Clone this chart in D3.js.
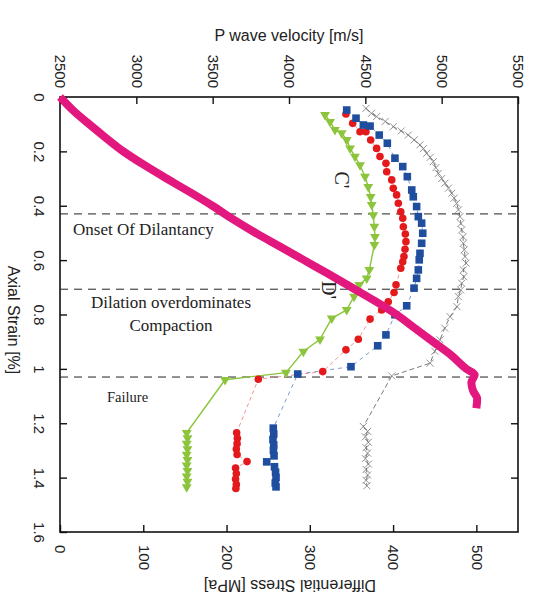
<!DOCTYPE html>
<html>
<head>
<meta charset="utf-8">
<script src="https://d3js.org/d3.v7.min.js"></script>
<style>
  body { margin: 0; background: #fff; }
  svg text { font-family: "Liberation Sans", Arial, sans-serif; fill: #222; }
  .serif { font-family: "Liberation Serif", "Times New Roman", serif; }
</style>
</head>
<body>
<div id="container"></div>
<script>
let width = 540;
let height = 608;

// tick values
let velTicks = [2500, 3000, 3500, 4000, 4500, 5000, 5500];
let stressTicks = [0, 100, 200, 300, 400, 500];
let strainTicks = [0, 0.2, 0.4, 0.6, 0.8, 1, 1.2, 1.4, 1.6];

// stage boundaries (axial strain %)
let stageLines = [0.43, 0.707, 1.03];

// stress-strain curve (bottom axis)
let ssStrain = [0, 0.05, 0.1, 0.15, 0.2, 0.25, 0.3, 0.35, 0.4, 0.45, 0.5, 0.55, 0.6, 0.65, 0.7, 0.75, 0.8, 0.85, 0.9, 0.95, 1.0, 1.022, 1.05, 1.08, 1.11, 1.145];
let ssStress = [0, 16, 35, 55, 76, 101, 128, 156, 183, 208, 235, 264, 293, 322, 350, 378, 404, 426, 448, 470, 488, 498, 494, 496, 501, 500];

// P wave velocity series (top axis)
let blueStrain = [0.048, 0.078, 0.103, 0.107, 0.14, 0.17, 0.225, 0.256, 0.293, 0.342, 0.367, 0.403, 0.44, 0.464, 0.501, 0.538, 0.575, 0.599, 0.636, 0.667, 0.703, 0.768, 0.801, 0.875, 0.915, 0.992, 1.019, 1.218, 1.24, 1.26, 1.28, 1.30, 1.32, 1.342, 1.36, 1.38, 1.40, 1.42, 1.434];
let blueVel = [4378, 4439, 4487, 4531, 4591, 4644, 4694, 4745, 4775, 4804, 4814, 4836, 4847, 4869, 4876, 4869, 4858, 4853, 4847, 4836, 4819, 4771, 4694, 4635, 4581, 4406, 4057, 3897, 3900, 3895, 3900, 3898, 3902, 3854, 3905, 3912, 3915, 3910, 3915];

let redStrain = [0.0625, 0.097, 0.128, 0.128, 0.158, 0.189, 0.219, 0.244, 0.275, 0.305, 0.336, 0.36, 0.391, 0.422, 0.446, 0.477, 0.504, 0.532, 0.56, 0.587, 0.606, 0.63, 0.691, 0.719, 0.753, 0.783, 0.817, 0.891, 0.93, 1.01, 1.038, 1.235, 1.255, 1.275, 1.295, 1.315, 1.341, 1.365, 1.385, 1.405, 1.425, 1.44];
let redVel = [4373, 4417, 4465, 4504, 4535, 4574, 4596, 4635, 4640, 4673, 4683, 4705, 4716, 4732, 4745, 4749, 4762, 4766, 4760, 4753, 4745, 4732, 4701, 4688, 4650, 4607, 4531, 4454, 4373, 4221, 3799, 3657, 3662, 3660, 3655, 3660, 3725, 3650, 3655, 3650, 3655, 3652];

let greenStrain = [0.066, 0.091, 0.121, 0.133, 0.158, 0.189, 0.219, 0.25, 0.293, 0.33, 0.367, 0.397, 0.434, 0.477, 0.514, 0.544, 0.636, 0.667, 0.691, 0.734, 0.783, 0.814, 0.891, 0.936, 1.014, 1.04, 1.235, 1.255, 1.275, 1.295, 1.315, 1.335, 1.355, 1.375, 1.395, 1.415, 1.435];
let greenVel = [4236, 4269, 4301, 4345, 4378, 4400, 4432, 4465, 4498, 4519, 4535, 4542, 4552, 4559, 4563, 4559, 4526, 4509, 4460, 4426, 4378, 4280, 4203, 4094, 3980, 3581, 3330, 3335, 3330, 3335, 3330, 3335, 3330, 3335, 3330, 3335, 3330];

let grayStrain = [0.042, 0.06, 0.072, 0.09, 0.109, 0.125, 0.14, 0.158, 0.176, 0.19, 0.207, 0.222, 0.238, 0.26, 0.281, 0.3, 0.317, 0.335, 0.354, 0.372, 0.391, 0.415, 0.44, 0.465, 0.489, 0.514, 0.538, 0.562, 0.587, 0.611, 0.636, 0.661, 0.685, 0.71, 0.734, 0.771, 0.808, 0.85, 0.893, 0.935, 0.979, 1.026, 1.212, 1.23, 1.25, 1.27, 1.29, 1.31, 1.33, 1.35, 1.37, 1.39, 1.41, 1.43];
let grayVel = [4504, 4540, 4574, 4630, 4683, 4735, 4781, 4820, 4858, 4880, 4902, 4925, 4945, 4962, 4978, 5000, 5022, 5045, 5066, 5082, 5098, 5110, 5120, 5126, 5131, 5140, 5142, 5148, 5153, 5160, 5142, 5145, 5131, 5125, 5109, 5100, 5055, 5020, 4989, 4955, 4924, 4673, 4487, 4515, 4500, 4520, 4505, 4515, 4500, 4520, 4505, 4515, 4505, 4510];

let mLeft = 60, mRight = 518, mTop = 97, mBottom = 532;

let svg = d3.select("#container")
  .append("svg")
  .attr("width", width)
  .attr("height", height);

let yS = d3.scaleLinear().domain([0, 1.6]).range([mTop, mBottom]);
let xV = d3.scaleLinear().domain([2500, 5500]).range([mLeft, mRight]);
let xS = d3.scaleLinear().domain([0, 550]).range([mLeft, mRight]);

// axes
let topAxis = svg.append("g").attr("transform", `translate(0,${mTop})`)
  .call(d3.axisTop(xV).tickValues(velTicks).tickSize(-7).tickSizeOuter(0).tickFormat(d3.format("d")));
topAxis.selectAll("text")
  .attr("x", 0).attr("y", 0).attr("dy", "0.35em")
  .attr("transform", "translate(0,-9) rotate(90)")
  .style("text-anchor", "end");

let bottomAxis = svg.append("g").attr("transform", `translate(0,${mBottom})`)
  .call(d3.axisBottom(xS).tickValues(stressTicks).tickSize(-7).tickSizeOuter(0).tickFormat(d3.format("d")));
bottomAxis.selectAll("text")
  .attr("x", 0).attr("y", 0).attr("dy", "0.35em")
  .attr("transform", "translate(0,13) rotate(90)")
  .style("text-anchor", "start");

let leftAxis = svg.append("g").attr("transform", `translate(${mLeft},0)`)
  .call(d3.axisLeft(yS).tickValues(strainTicks).tickSize(-7).tickSizeOuter(0)
    .tickFormat(d => String(+d.toFixed(1))));
leftAxis.selectAll("text")
  .attr("x", 0).attr("y", 0).attr("dy", "0.35em")
  .attr("transform", "translate(-21,0) rotate(90)")
  .style("text-anchor", "middle");

svg.append("g").attr("transform", `translate(${mRight},0)`)
  .call(d3.axisRight(yS).tickValues(strainTicks.slice(1, -1)).tickSize(-7).tickSizeOuter(0).tickFormat(""));

svg.selectAll(".domain").remove();
svg.selectAll(".tick line").attr("stroke", "#111").attr("stroke-width", 1.4);
svg.selectAll(".tick text").style("font-size", "15px").style("fill", "#222")
  .style("font-family", "'Liberation Sans', Arial, sans-serif");

svg.append("rect")
  .attr("x", mLeft).attr("y", mTop)
  .attr("width", mRight - mLeft).attr("height", mBottom - mTop)
  .attr("fill", "none").attr("stroke", "#111").attr("stroke-width", 1.6);

// axis titles
svg.append("text").attr("x", (mLeft + mRight) / 2).attr("y", 41)
  .attr("text-anchor", "middle").style("font-size", "16px")
  .text("P wave velocity [m/s]");

svg.append("text").attr("transform", "translate(14,320) rotate(90)")
  .attr("text-anchor", "middle").attr("dy", "0.35em").style("font-size", "16px")
  .text("Axial Strain [%]");

svg.append("text").attr("transform", "translate(290,586) rotate(180)")
  .attr("text-anchor", "middle").attr("dy", "0.35em").style("font-size", "16px")
  .text("Differential Stress [MPa]");

// stage lines
svg.selectAll(".stage").data(stageLines).enter().append("line")
  .attr("x1", mLeft).attr("x2", mRight)
  .attr("y1", d => yS(d)).attr("y2", d => yS(d))
  .attr("stroke", "#222").attr("stroke-width", 1)
  .attr("stroke-dasharray", "8,6");

// series lines
function series(st, v) { return st.map((s, i) => [v[i], s]); }
let velLine = d3.line().x(d => xV(d[0])).y(d => yS(d[1]));

let gray = series(grayStrain, grayVel);
let blue = series(blueStrain, blueVel);
let red = series(redStrain, redVel);
let green = series(greenStrain, greenVel);

svg.append("path").attr("d", velLine(gray)).attr("fill", "none")
  .attr("stroke", "#555").attr("stroke-width", 0.8).attr("stroke-dasharray", "5,3");
svg.append("path").attr("d", velLine(blue)).attr("fill", "none")
  .attr("stroke", "#5b7fc4").attr("stroke-width", 0.8).attr("stroke-dasharray", "4,4");
svg.append("path").attr("d", velLine(red)).attr("fill", "none")
  .attr("stroke", "#ee7a7a").attr("stroke-width", 0.8).attr("stroke-dasharray", "4,3");
svg.append("path").attr("d", velLine(green)).attr("fill", "none")
  .attr("stroke", "#8cc43c").attr("stroke-width", 1.4);

// markers
svg.selectAll(".gx").data(gray).enter().append("path")
  .attr("transform", d => `translate(${xV(d[0])},${yS(d[1])})`)
  .attr("d", "M-3.5,-3.5L3.5,3.5M-3.5,3.5L3.5,-3.5")
  .attr("stroke", "#777").attr("stroke-width", 0.8).attr("fill", "none");

svg.selectAll(".gt").data(green).enter().append("path")
  .attr("transform", d => `translate(${xV(d[0])},${yS(d[1])}) rotate(180)`)
  .attr("d", d3.symbol().type(d3.symbolTriangle).size(42))
  .attr("fill", "#8cc43c");

svg.selectAll(".rc").data(red).enter().append("circle")
  .attr("cx", d => xV(d[0])).attr("cy", d => yS(d[1])).attr("r", 3.8)
  .attr("fill", "#e3191c");

svg.selectAll(".bs").data(blue).enter().append("rect")
  .attr("x", d => xV(d[0]) - 3.8).attr("y", d => yS(d[1]) - 3.8)
  .attr("width", 7.6).attr("height", 7.6)
  .attr("fill", "#1f4e9e");

// stress-strain curve
let ssLine = d3.line().curve(d3.curveMonotoneY)
  .x(d => xS(d[0])).y(d => yS(d[1]));
svg.append("path").attr("d", ssLine(series(ssStrain, ssStress)))
  .attr("fill", "none").attr("stroke", "#e2187f").attr("stroke-width", 8)
  .attr("stroke-linejoin", "round");

// annotations
svg.append("text").attr("class", "serif").attr("x", 73).attr("y", 235)
  .style("font-size", "17px").text("Onset Of Dilantancy");
svg.append("text").attr("class", "serif").attr("x", 171).attr("y", 308)
  .attr("text-anchor", "middle").style("font-size", "17px").text("Dilation overdominates");
svg.append("text").attr("class", "serif").attr("x", 171).attr("y", 331)
  .attr("text-anchor", "middle").style("font-size", "17px").text("Compaction");
svg.append("text").attr("class", "serif").attr("x", 107).attr("y", 402)
  .style("font-size", "14.5px").text("Failure");
svg.append("text").attr("class", "serif").attr("transform", "translate(342,180) rotate(90)")
  .attr("text-anchor", "middle").attr("dy", "0.35em").style("font-size", "20px").text("C'");
svg.append("text").attr("class", "serif").attr("transform", "translate(329,290) rotate(90)")
  .attr("text-anchor", "middle").attr("dy", "0.35em").style("font-size", "20px").text("D'");
</script>
</body>
</html>
